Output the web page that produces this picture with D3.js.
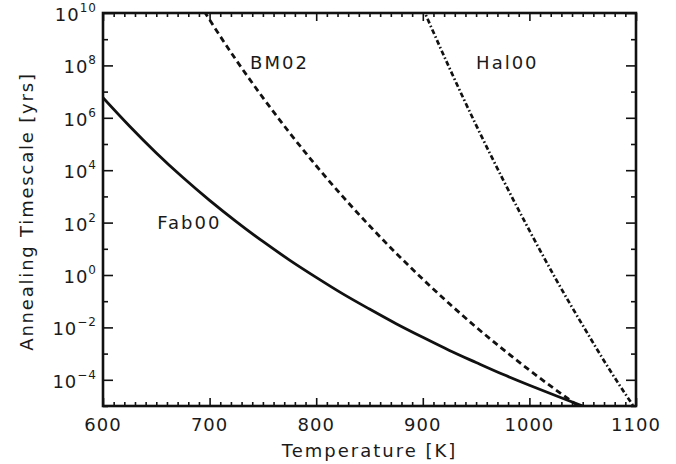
<!DOCTYPE html>
<html>
<head>
<meta charset="utf-8">
<script src="https://cdn.jsdelivr.net/npm/d3@7"></script>
<style>
  html, body { margin: 0; padding: 0; background: #fff; }
  svg { display: block; }
  text { font-family: "DejaVu Sans", sans-serif; fill: #1a1a1a; }
</style>
</head>
<body>
<svg id="chart" width="676" height="464"></svg>
<script>
// Annealing timescales (log10 of years) versus temperature for three prescriptions
const temperatures = [600, 625, 650, 675, 700, 725, 750, 775, 800, 825, 850, 875, 900, 925, 950, 975, 1000, 1025, 1050];
const fab00Log = [6.77, 5.68, 4.66, 3.72, 2.85, 2.04, 1.28, 0.57, -0.09, -0.72, -1.30, -1.86, -2.38, -2.88, -3.34, -3.79, -4.21, -4.61, -5.00];

const bm02Temps = [695, 700, 725, 750, 775, 800, 825, 850, 875, 900, 925, 950, 975, 1000, 1025, 1050];
const bm02Log = [10.06, 9.74, 8.20, 6.77, 5.43, 4.17, 2.99, 1.88, 0.83, -0.16, -1.10, -1.99, -2.83, -3.63, -4.39, -5.12];

const hal00Temps = [900, 925, 950, 975, 1000, 1025, 1050, 1075, 1100];
const hal00Log = [10.19, 7.90, 5.72, 3.66, 1.70, -0.17, -1.92, -3.60, -5.15];

const seriesNames = ["Fab00", "BM02", "Hal00"];
const xTickValues = [600, 700, 800, 900, 1000, 1100];
const yExponents = [10, 8, 6, 4, 2, 0, -2, -4];

const svg = d3.select("#chart");
const margin = { left: 103, right: 40, top: 13, bottom: 58 };
const W = 676, H = 464;
const x0 = margin.left, x1 = W - margin.right, y0 = margin.top, y1 = H - margin.bottom;

const x = d3.scaleLinear().domain([600, 1100]).range([x0, x1]);
const y = d3.scaleLog().domain([1e-5, 1e10]).range([y1, y0]);

const ink = "#111";

// clip region for the curves
svg.append("defs").append("clipPath").attr("id", "plotArea")
  .append("rect").attr("x", x0).attr("y", y0).attr("width", x1 - x0).attr("height", y1 - y0);

function toPoints(ts, logs) {
  return ts.map((t, i) => ({ t: t, v: Math.pow(10, logs[i]) }));
}

const line = d3.line()
  .x(d => x(d.t))
  .y(d => y(d.v))
  .curve(d3.curveMonotoneX);

const curves = [
  { name: seriesNames[0], pts: toPoints(temperatures, fab00Log), dash: null, width: 2.8 },
  { name: seriesNames[1], pts: toPoints(bm02Temps, bm02Log), dash: "6,4", width: 2.8 },
  { name: seriesNames[2], pts: toPoints(hal00Temps, hal00Log), dash: "5,2.5,1.6,2.5", width: 2.7 }
];

const gCurves = svg.append("g").attr("clip-path", "url(#plotArea)");
curves.forEach(c => {
  gCurves.append("path")
    .datum(c.pts)
    .attr("d", line)
    .attr("fill", "none")
    .attr("stroke", ink)
    .attr("stroke-width", c.width)
    .attr("stroke-dasharray", c.dash);
});

// axes: bottom/top with major every 100 K and minor every 10 K
const xMinor = d3.range(600, 1101, 10).filter(v => v % 100 !== 0);
const yMajor = yExponents.map(e => Math.pow(10, e));
const yMinor = d3.range(-5, 11).filter(e => e % 2 !== 0).map(e => Math.pow(10, e));

function addAxis(axisFn, scale, ticks, size, transform) {
  const g = svg.append("g")
    .attr("transform", transform)
    .call(axisFn(scale).tickValues(ticks).tickSize(size).tickFormat(""));
  g.select(".domain").remove();
  g.selectAll(".tick line").attr("stroke", ink).attr("stroke-width", 1.6);
  return g;
}

// ticks point inward
addAxis(d3.axisTop, x, xTickValues, 8, `translate(0,${y1})`);
addAxis(d3.axisTop, x, xMinor, 4, `translate(0,${y1})`);
addAxis(d3.axisBottom, x, xTickValues, 8, `translate(0,${y0})`);
addAxis(d3.axisBottom, x, xMinor, 4, `translate(0,${y0})`);
addAxis(d3.axisRight, y, yMajor, 10, `translate(${x0},0)`);
addAxis(d3.axisRight, y, yMinor, 5, `translate(${x0},0)`);
addAxis(d3.axisLeft, y, yMajor, 10, `translate(${x1},0)`);
addAxis(d3.axisLeft, y, yMinor, 5, `translate(${x1},0)`);

// frame
svg.append("rect")
  .attr("x", x0).attr("y", y0)
  .attr("width", x1 - x0).attr("height", y1 - y0)
  .attr("fill", "none").attr("stroke", ink).attr("stroke-width", 2.6);

// x tick labels
svg.append("g").selectAll("text")
  .data(xTickValues)
  .join("text")
  .attr("x", d => x(d))
  .attr("y", y1 + 25)
  .attr("text-anchor", "middle")
  .attr("font-size", 18)
  .attr("letter-spacing", 1)
  .text(d => d);

// y tick labels as powers of ten
const yLabels = svg.append("g").selectAll("text")
  .data(yExponents)
  .join("text")
  .attr("x", x0 - 6)
  .attr("y", d => y(Math.pow(10, d)) + 8)
  .attr("text-anchor", "end")
  .attr("font-size", 18);
yLabels.append("tspan").attr("letter-spacing", 1).text("10");
yLabels.append("tspan")
  .attr("dy", -9)
  .attr("font-size", 12)
  .attr("letter-spacing", 1)
  .text(d => d < 0 ? "\u2212" + Math.abs(d) : String(d));

// axis titles
svg.append("text")
  .attr("x", (x0 + x1) / 2)
  .attr("y", y1 + 51)
  .attr("text-anchor", "middle")
  .attr("font-size", 18)
  .attr("letter-spacing", 2)
  .text("Temperature [K]");

svg.append("text")
  .attr("transform", `translate(33,${(y0 + y1) / 2 + 2}) rotate(-90)`)
  .attr("text-anchor", "middle")
  .attr("font-size", 18)
  .attr("letter-spacing", 1.8)
  .text("Annealing Timescale [yrs]");

// curve labels
const labelPos = [
  { name: seriesNames[0], t: 651, v: 1e2, dy: 6 },
  { name: seriesNames[1], t: 738, v: 1e8, dy: 4 },
  { name: seriesNames[2], t: 950, v: 1e8, dy: 4 }
];
svg.append("g").selectAll("text")
  .data(labelPos)
  .join("text")
  .attr("x", d => x(d.t))
  .attr("y", d => y(d.v) + d.dy)
  .attr("font-size", 18)
  .attr("letter-spacing", 2)
  .text(d => d.name);
</script>
</body>
</html>
